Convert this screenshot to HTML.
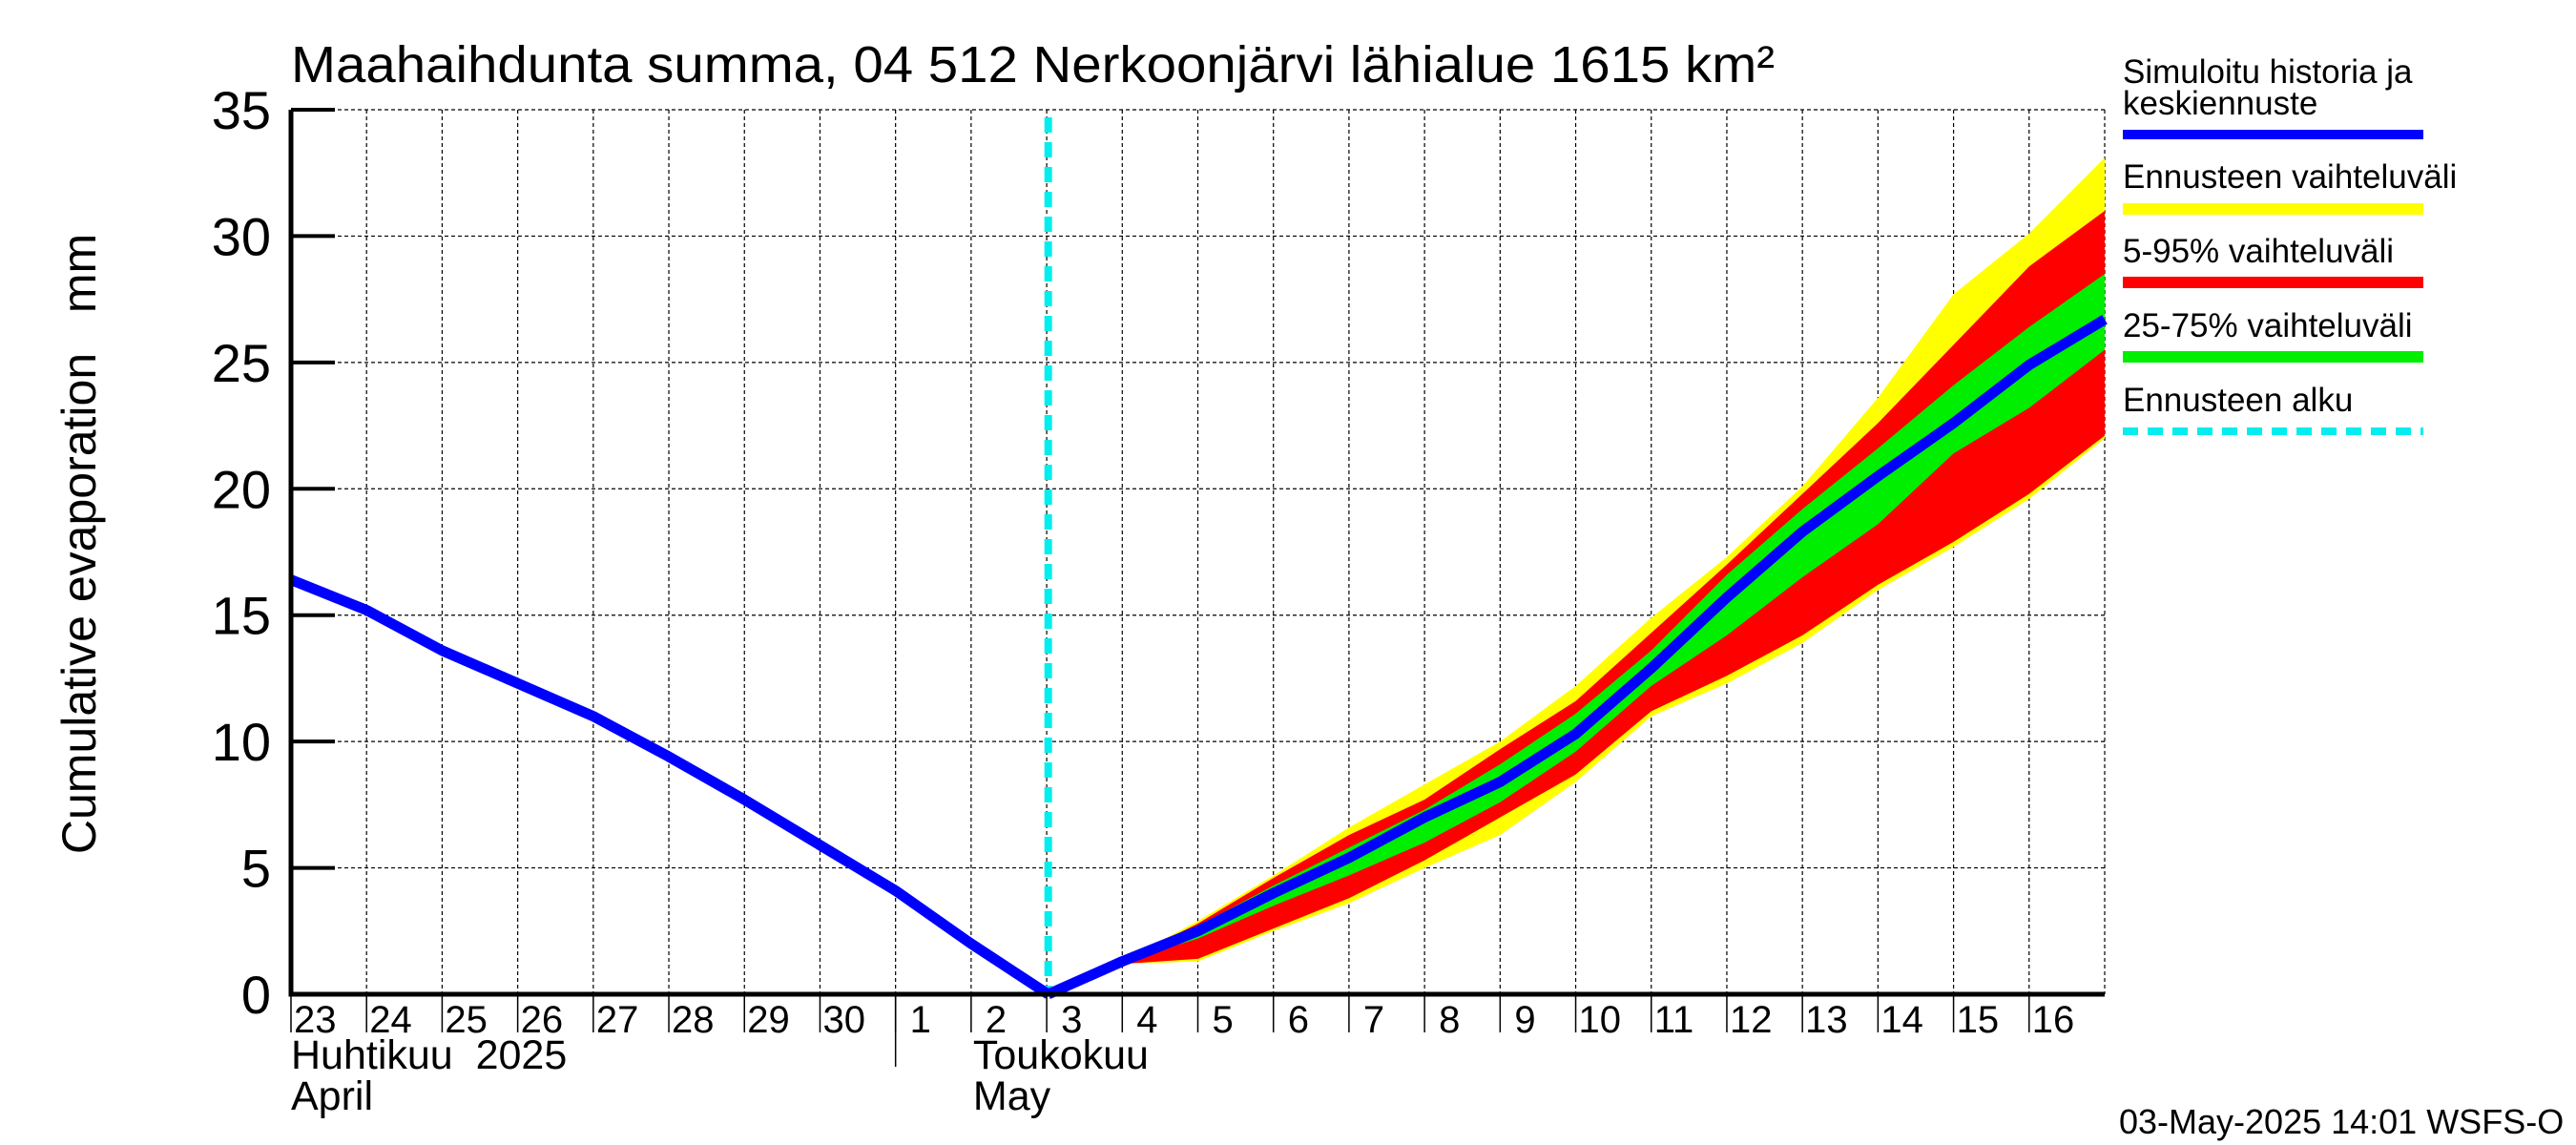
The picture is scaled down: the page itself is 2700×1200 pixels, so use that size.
<!DOCTYPE html>
<html><head><meta charset="utf-8"><style>
html,body{margin:0;padding:0;background:#fff}
svg{display:block;font-family:"Liberation Sans",sans-serif}
</style></head><body>
<svg id="chart" width="2700" height="1200" viewBox="0 0 2700 1200" xmlns="http://www.w3.org/2000/svg">
<text x="305" y="86" font-size="54" textLength="1555" lengthAdjust="spacingAndGlyphs">Maahaihdunta summa, 04 512 Nerkoonjärvi lähialue 1615 km²</text>
<text transform="translate(100,570) rotate(-90)" text-anchor="middle" font-size="50" xml:space="preserve">Cumulative evaporation   mm</text>
<g id="grid"></g>
<g id="bands"></g>
<g id="lines"></g>
<g id="axes"></g>
<g font-size="35">
<text x="2225" y="87">Simuloitu historia ja</text>
<text x="2225" y="120">keskiennuste</text>
<rect x="2225" y="136" width="315" height="10" fill="#0000ff"/>
<text x="2225" y="197">Ennusteen vaihteluväli</text>
<rect x="2225" y="213" width="315" height="12" fill="#ffff00"/>
<text x="2225" y="275">5-95% vaihteluväli</text>
<rect x="2225" y="290" width="315" height="12" fill="#ff0000"/>
<text x="2225" y="353">25-75% vaihteluväli</text>
<rect x="2225" y="368" width="315" height="12" fill="#00ee00"/>
<text x="2225" y="431">Ennusteen alku</text>
<line x1="2225" y1="452" x2="2540" y2="452" stroke="#00eeee" stroke-width="8" stroke-dasharray="16,10"/>
</g>
<text x="2221" y="1188" font-size="36">03-May-2025 14:01 WSFS-O</text>
</svg>
<script>
const dayLabels=["23","24","25","26","27","28","29","30","1","2","3","4","5","6","7","8","9","10","11","12","13","14","15","16"];
const yTicks=[0,5,10,15,20,25,30,35];
const histDays=[0,1,2,3,4,5,6,7,8,9,10.02];
const histVals=[16.4,15.2,13.6,12.3,11.0,9.4,7.7,5.9,4.1,2.0,0];
const fcDays=[10.02,11,12,13,14,15,16,17,18,19,20,21,22,23,24];
const fcVals=[0,1.3,2.5,4.0,5.4,7.0,8.4,10.3,12.9,15.7,18.3,20.5,22.6,24.9,26.7];
const bandDays=[11,12,13,14,15,16,17,18,19,20,21,22,23,24];
const yellowHi=[1.3,2.9,4.7,6.6,8.3,10.0,12.2,14.9,17.3,20.1,23.6,27.7,30.1,33.1];
const yellowLo=[1.2,1.3,2.5,3.6,5.0,6.3,8.4,11.0,12.3,13.9,16.0,17.7,19.6,22.0];
const redHi=[1.3,2.8,4.6,6.3,7.7,9.7,11.6,14.3,17.0,19.8,22.6,25.7,28.8,31.0];
const redLo=[1.2,1.4,2.6,3.8,5.3,7.0,8.7,11.2,12.6,14.2,16.2,17.9,19.8,22.1];
const greenHi=[1.3,2.7,4.3,5.8,7.3,9.1,11.1,13.6,16.6,19.2,21.6,24.1,26.4,28.5];
const greenLo=[1.3,2.2,3.5,4.7,6.0,7.6,9.6,12.2,14.2,16.5,18.6,21.4,23.2,25.5];
const forecastStart=10.02;

const X0=305,X1=2206,Y0=1042,Y1=115,NDAYS=24,YMAX=35;
const xs=d=>X0+(X1-X0)*d/NDAYS;
const ys=v=>Y0-(Y0-Y1)*v/YMAX;
const NS="http://www.w3.org/2000/svg";
function mk(tag,attrs,parent){const e=document.createElementNS(NS,tag);for(const k in attrs)e.setAttribute(k,attrs[k]);parent.appendChild(e);return e;}
const grid=document.getElementById('grid'),bands=document.getElementById('bands'),lines=document.getElementById('lines'),axes=document.getElementById('axes');
for(let i=1;i<=NDAYS;i++){const l=mk('line',{x1:xs(i),y1:Y1,x2:xs(i),y2:Y0,stroke:'#000','stroke-width':1.2,'stroke-dasharray':'4,3'},grid);

}
yTicks.forEach(v=>{if(v===0)return;const l=mk('line',{x1:X0,y1:ys(v),x2:X1,y2:ys(v),stroke:'#000','stroke-width':1.2,'stroke-dasharray':'4,3'},grid);

});
function band(hi,lo,color,name){let p=bandDays.map((d,i)=>xs(d)+','+ys(hi[i]));p=p.concat(bandDays.map((d,i)=>xs(d)+','+ys(lo[i])).reverse());
const e=mk('polygon',{points:p.join(' '),fill:color},bands);

}
band(yellowHi,yellowLo,'#ffff00','band-range');
band(redHi,redLo,'#ff0000','band-5-95');
band(greenHi,greenLo,'#00ee00','band-25-75');
const cy=mk('line',{x1:xs(forecastStart),y1:Y1+8,x2:xs(forecastStart),y2:Y0,stroke:'#00eeee','stroke-width':8,'stroke-dasharray':'16,10'},lines);


const hp=mk('polyline',{points:histDays.map((d,i)=>xs(d)+','+ys(histVals[i])).join(' '),fill:'none',stroke:'#0000ff','stroke-width':11,'stroke-linejoin':'round'},lines);


const fp=mk('polyline',{points:fcDays.map((d,i)=>xs(d)+','+ys(fcVals[i])).join(' '),fill:'none',stroke:'#0000ff','stroke-width':11,'stroke-linejoin':'round'},lines);


const ax=mk('path',{d:`M${X0},${Y1} L${X0},${Y0} L${X1},${Y0}`,fill:'none',stroke:'#000','stroke-width':5},axes);


yTicks.forEach(v=>{const t=mk('line',{x1:X0,y1:ys(v),x2:X0+46,y2:ys(v),stroke:'#000','stroke-width':4},axes);


const tx=mk('text',{x:284,y:ys(v)+20,'text-anchor':'end','font-size':56},axes);tx.textContent=String(v);

});
dayLabels.forEach((s,i)=>{const t=mk('line',{x1:xs(i),y1:Y0,x2:xs(i),y2:Y0+40,stroke:'#000','stroke-width':1.5},axes);


const tx=mk('text',{x:xs(i)+3+(s.length===1?12:0),y:1082,'font-size':40},axes);tx.textContent=s;

});
const sep=mk('line',{x1:xs(8),y1:Y0,x2:xs(8),y2:1118,stroke:'#000','stroke-width':1.5},axes);


[["Huhtikuu  2025",X0,1120,'month-label-fi-april'],["April",X0,1163,'month-label-en-april'],["Toukokuu",xs(9)+2,1120,'month-label-fi-may'],["May",xs(9)+2,1163,'month-label-en-may']].forEach(a=>{
const tx=mk('text',{x:a[1],y:a[2],'font-size':43},axes);tx.textContent=a[0];tx.style.whiteSpace='pre';

});
</script>
</body></html>
